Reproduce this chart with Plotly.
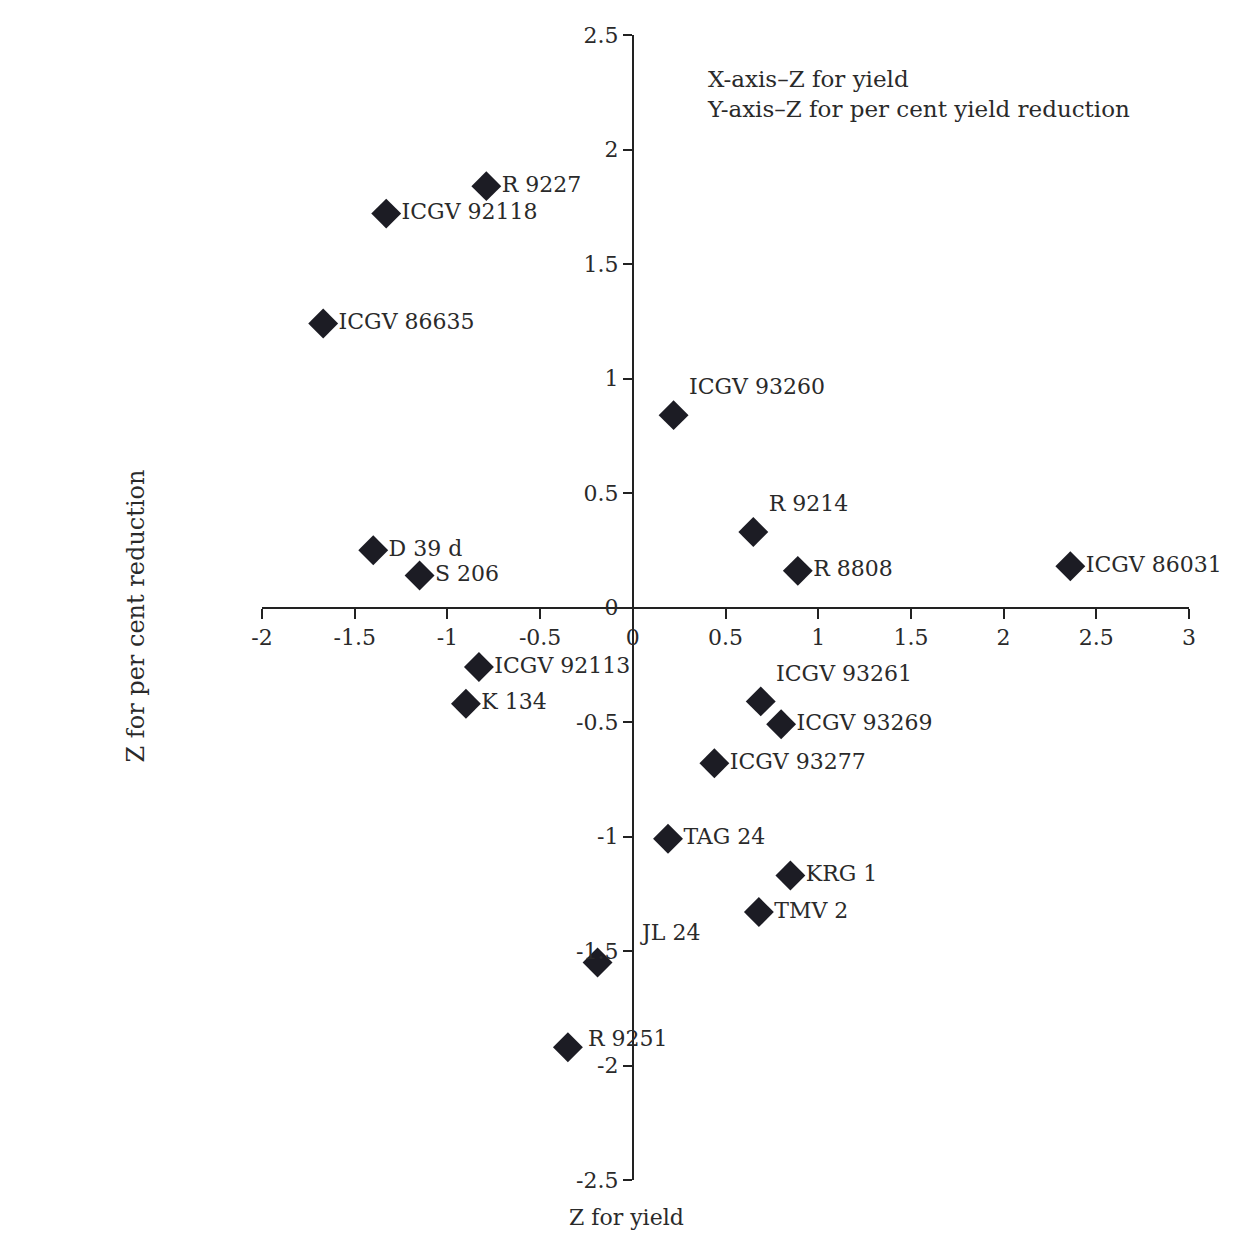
import plotly.graph_objects as go

# Data
genotypes = ["R 9227", "ICGV 92118", "ICGV 86635", "ICGV 93260", "D 39 d", "S 206",
             "R 9214", "R 8808", "ICGV 86031", "ICGV 92113", "K 134", "ICGV 93261",
             "ICGV 93269", "ICGV 93277", "TAG 24", "KRG 1", "TMV 2", "JL 24", "R 9251"]
z_yield = [-0.79, -1.33, -1.67, 0.22, -1.40, -1.15,
           0.65, 0.89, 2.36, -0.83, -0.90, 0.69,
           0.80, 0.44, 0.19, 0.85, 0.68, -0.19, -0.35]
z_reduction = [1.84, 1.72, 1.24, 0.84, 0.25, 0.14,
               0.33, 0.16, 0.18, -0.26, -0.42, -0.41,
               -0.51, -0.68, -1.01, -1.17, -1.33, -1.55, -1.92]

x_ticks = [-2, -1.5, -1, -0.5, 0, 0.5, 1, 1.5, 2, 2.5, 3]
y_ticks = [-2.5, -2, -1.5, -1, -0.5, 0, 0.5, 1, 1.5, 2, 2.5]

# label placement (style only)
raised = {"ICGV 93260", "R 9214", "ICGV 93261"}
detached = {"JL 24": (40, 30), "R 9251": (18, 9)}

def fmt(v):
    return str(int(v)) if float(v).is_integer() else str(v)

FONT = "DejaVu Serif"
TXT = "#2a2a2a"

point_text = ["" if g in detached else g for g in genotypes]
point_pos = ["top right" if g in raised else "middle right" for g in genotypes]

fig = go.Figure()
fig.add_trace(go.Scatter(
    x=z_yield, y=z_reduction, mode="markers+text",
    text=point_text, textposition=point_pos,
    textfont=dict(family=FONT, size=22, color=TXT),
    marker=dict(symbol="diamond", size=23, color="#1c1c24"),
    cliponaxis=False, showlegend=False, hoverinfo="skip",
))

annotations = [
    dict(text="X-axis–Z for yield<br>Y-axis–Z for per cent yield reduction",
         xref="paper", yref="paper", x=0.478, y=0.975, xanchor="left", yanchor="top",
         align="left", showarrow=False, font=dict(family=FONT, size=23, color=TXT)),
    dict(text="Z for yield", xref="paper", yref="paper", x=0.393, y=-0.033,
         xanchor="center", yanchor="middle", showarrow=False,
         font=dict(family=FONT, size=22, color=TXT)),
    dict(text="Z for per cent reduction", xref="paper", yref="paper", x=-0.136, y=0.493,
         xanchor="center", yanchor="middle", textangle=-90, showarrow=False,
         font=dict(family=FONT, size=24, color=TXT)),
]
for g, xv, yv in zip(genotypes, z_yield, z_reduction):
    if g in detached:
        dx, dy = detached[g]
        annotations.append(dict(text=g, x=xv, y=yv, xref="x", yref="y",
                                xanchor="left", yanchor="middle", xshift=dx, yshift=dy,
                                showarrow=False, font=dict(family=FONT, size=22, color=TXT)))

fig.update_layout(
    width=1254, height=1238,
    margin=dict(l=254, r=73, t=27, b=66),
    paper_bgcolor="white", plot_bgcolor="white",
    font=dict(family=FONT, size=22, color=TXT),
    xaxis=dict(range=[-2, 3], anchor="free", position=0.5,
               showline=True, linecolor="#222", linewidth=2,
               ticks="outside", ticklen=10, tickwidth=2, tickcolor="#222",
               tickvals=x_ticks, ticktext=[fmt(v) for v in x_ticks],
               showgrid=False, zeroline=False,
               tickfont=dict(family=FONT, size=22, color=TXT)),
    yaxis=dict(range=[-2.5, 2.5], anchor="free", position=0.4,
               showline=True, linecolor="#222", linewidth=2,
               ticks="outside", ticklen=9, tickwidth=2, tickcolor="#222",
               tickvals=y_ticks, ticktext=[fmt(v) for v in y_ticks],
               showgrid=False, zeroline=False,
               tickfont=dict(family=FONT, size=22, color=TXT)),
    annotations=annotations,
)

fig.write_html("out.html")
